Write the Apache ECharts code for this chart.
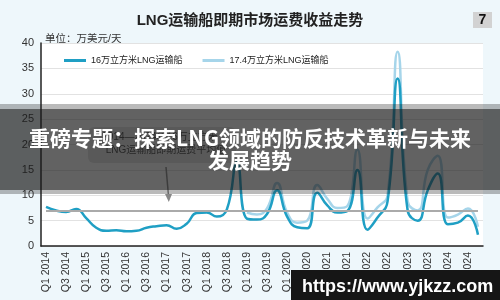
<!DOCTYPE html>
<html>
<head>
<meta charset="utf-8">
<script src="https://cdn.jsdelivr.net/npm/echarts@6/dist/echarts.min.js"></script>
<style>
html,body{margin:0;padding:0;background:#eef7fb;}
#chart{width:500px;height:300px;}
</style>
</head>
<body>
<div id="chart"></div>
<script>
const categories = [
  'Q1 2014','Q2 2014','Q3 2014','Q4 2014',
  'Q1 2015','Q2 2015','Q3 2015','Q4 2015',
  'Q1 2016','Q2 2016','Q3 2016','Q4 2016',
  'Q1 2017','Q2 2017','Q3 2017','Q4 2017',
  'Q1 2018','Q2 2018','Q3 2018','Q4 2018',
  'Q1 2019','Q2 2019','Q3 2019','Q4 2019',
  'Q1 2020','Q2 2020','Q3 2020','Q4 2020',
  'Q1 2021','Q2 2021','Q3 2021','Q4 2021',
  'Q1 2022','Q2 2022','Q3 2022','Q4 2022',
  'Q1 2023','Q2 2023','Q3 2023','Q4 2023',
  'Q1 2024','Q2 2024','Q3 2024','Q4 2024'
];
const seriesNames = ['16万立方米LNG运输船', '17.4万立方米LNG运输船'];
const vessel160k = [
  7.7, 7.0, 6.7, 7.3,
  5.5, 3.6, 3.0, 3.1,
  2.9, 3.0, 3.6, 3.9,
  4.1, 3.4, 4.4, 6.5,
  6.6, 5.8, 7.2, 16.5,
  5.4, 5.2, 6.3, 11.0,
  5.8, 3.7, 3.5, 10.5,
  8.0, 6.6, 6.9, 15.0,
  3.2, 5.6, 8.8, 33.0,
  7.0, 5.0, 11.0, 14.3,
  4.3, 4.6, 6.0, 2.2
];
const vessel174k = [
  null, null, null, null,
  null, null, null, null,
  null, null, null, null,
  null, null, null, null,
  null, null, null, null,
  6.6, 6.2, 7.4, 12.4,
  6.6, 4.6, 5.0, 12.0,
  9.3, 7.5, 7.9, 19.0,
  5.4, 7.6, 10.0, 38.3,
  8.8, 7.0, 15.0, 17.8,
  5.6, 6.2, 7.4, 3.8
];
const averageValue = 6.9;
const yTicks = { min: 0, max: 40, interval: 5 };
const titleText = 'LNG运输船即期市场运费收益走势';
const unitText = '单位：万美元/天';
const noteLines = ['2014—2024年16万立方米', 'LNG运输船即期运费平均值'];
const bannerLines = ['重磅专题：探索LNG领域的防反技术革新与未来', '发展趋势'];
const watermarkText = 'https://www.yjkzz.com';
const badgeText = '7';

const FONT = '"Liberation Sans", "Noto Sans CJK SC", sans-serif';
const chart = echarts.init(document.getElementById('chart'), null, {renderer: 'canvas'});
chart.setOption({
  backgroundColor: '#eef7fb',
  animation: false,
  textStyle: {fontFamily: FONT},
  title: [
    {text: titleText, left: 'center', top: 8,
     textStyle: {fontSize: 15, fontWeight: 'bold', color: '#222', fontFamily: FONT}},
    {text: unitText, left: 40, top: 29,
     textStyle: {fontSize: 10.5, fontWeight: 'normal', color: '#333', fontFamily: FONT}}
  ],
  legend: {
    left: 59, top: 51, icon: 'rect', itemWidth: 22, itemHeight: 3, itemGap: 20,
    textStyle: {fontSize: 9, color: '#222', fontFamily: FONT},
    data: seriesNames
  },
  grid: {left: 41, right: 17, top: 43, bottom: 54, show: true, backgroundColor: '#ffffff', borderWidth: 0},
  xAxis: {
    type: 'category', data: categories, boundaryGap: true,
    axisLine: {lineStyle: {color: '#222', width: 1.5}},
    axisTick: {interval: 0, length: 4, lineStyle: {color: '#222'}},
    axisLabel: {interval: 1, rotate: 90, fontSize: 10.5, color: '#333', margin: 6, fontFamily: FONT}
  },
  yAxis: {
    type: 'value', min: yTicks.min, max: yTicks.max, interval: yTicks.interval,
    axisLine: {show: true, lineStyle: {color: '#222', width: 1.5}},
    axisTick: {show: false},
    axisLabel: {fontSize: 11, color: '#333', margin: 7, fontFamily: FONT},
    splitLine: {lineStyle: {color: '#e2e2e2', width: 1}}
  },
  series: [
    {
      name: seriesNames[1], type: 'line', data: vessel174k, smooth: 0.5, showSymbol: false,
      lineStyle: {color: '#a6d5ea', width: 2.5}, itemStyle: {color: '#a6d5ea'}, z: 2
    },
    {
      name: seriesNames[0], type: 'line', data: vessel160k, smooth: 0.5, showSymbol: false,
      lineStyle: {color: '#1f9fc4', width: 2.5}, itemStyle: {color: '#1f9fc4'}, z: 3,
      markLine: {
        silent: true, symbol: ['none', 'none'], label: {show: false},
        lineStyle: {color: '#aaaaaa', width: 2, type: 'solid'},
        data: [[{coord: [categories[0], averageValue]}, {coord: [categories[categories.length - 1], averageValue]}]]
      }
    }
  ],
  graphic: [
    {type: 'rect', z: 50, shape: {x: 88, y: 127, width: 148, height: 36, r: 6},
     style: {fill: '#e4e4e4'}},
    {type: 'text', z: 51, style: {x: 160, y: 137, text: noteLines[0], fill: '#444', font: '10px ' + FONT, textAlign: 'center', textVerticalAlign: 'middle'}},
    {type: 'text', z: 51, style: {x: 166, y: 150, text: noteLines[1], fill: '#444', font: '10px ' + FONT, textAlign: 'center', textVerticalAlign: 'middle'}},
    {type: 'line', z: 51, shape: {x1: 166, y1: 167, x2: 168.5, y2: 196}, style: {stroke: '#888', lineWidth: 1.5}},
    {type: 'polygon', z: 51, shape: {points: [[165, 194], [172, 194], [168.8, 202]]}, style: {fill: '#888'}},
    {type: 'rect', z: 100, shape: {x: 0, y: 104, width: 500, height: 90}, style: {fill: 'rgba(25,25,25,0.3)'}},
    {type: 'rect', z: 101, shape: {x: 0, y: 109, width: 500, height: 81}, style: {fill: 'rgba(25,25,25,0.55)'}},
    {type: 'text', z: 102, style: {x: 250, y: 138, text: bannerLines[0], fill: '#fff', font: 'bold 21px "Noto Sans CJK SC", sans-serif', textAlign: 'center', textVerticalAlign: 'middle'}},
    {type: 'text', z: 102, style: {x: 250, y: 160, text: bannerLines[1], fill: '#fff', font: 'bold 21px "Noto Sans CJK SC", sans-serif', textAlign: 'center', textVerticalAlign: 'middle'}},
    {type: 'rect', z: 100, shape: {x: 291, y: 270, width: 209, height: 30}, style: {fill: '#161616'}},
    {type: 'text', z: 101, style: {x: 302, y: 287, text: watermarkText, fill: '#fff', font: 'bold 18px "Liberation Sans", sans-serif', textAlign: 'left', textVerticalAlign: 'middle'}},
    {type: 'rect', z: 100, shape: {x: 473, y: 12, width: 19, height: 16}, style: {fill: '#d2d2d2'}},
    {type: 'text', z: 101, style: {x: 482.5, y: 20.5, text: badgeText, fill: '#111', font: 'bold 14px "Liberation Sans", sans-serif', textAlign: 'center', textVerticalAlign: 'middle'}}
  ]
});
</script>
</body>
</html>
